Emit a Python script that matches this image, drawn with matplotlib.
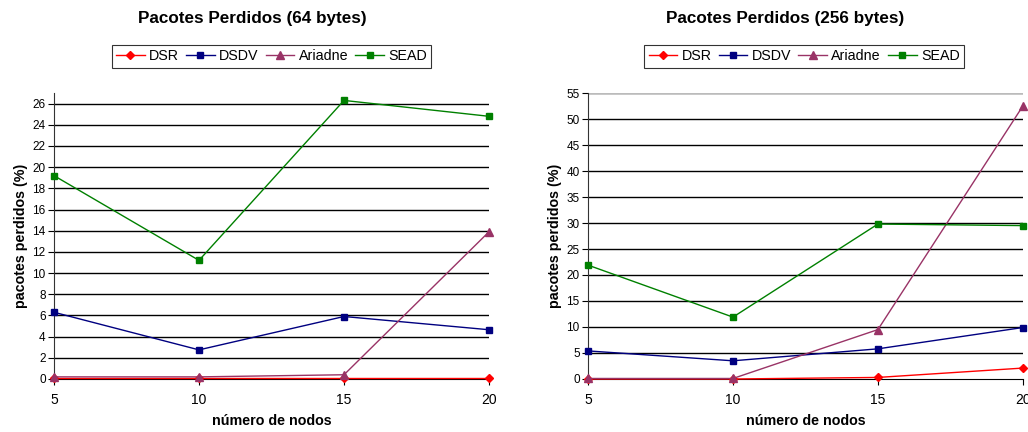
import matplotlib
matplotlib.use("Agg")
import matplotlib.pyplot as plt

plt.rcParams['font.family'] = ['Liberation Sans', 'DejaVu Sans']

# number of nodes
nodes = [5, 10, 15, 20]

# 64 bytes
dsr_64 = [0.05, 0.05, 0.05, 0.05]
dsdv_64 = [6.3, 2.75, 5.9, 4.65]
ariadne_64 = [0.2, 0.2, 0.4, 13.9]
sead_64 = [19.2, 11.2, 26.3, 24.8]

# 256 bytes
dsr_256 = [0.0, 0.0, 0.3, 2.1]
dsdv_256 = [5.4, 3.5, 5.8, 9.9]
ariadne_256 = [0.1, 0.1, 9.5, 52.5]
sead_256 = [21.9, 11.9, 29.8, 29.5]

NAMES = ['DSR', 'DSDV', 'Ariadne', 'SEAD']
COLORS = ['#FF0000', '#000080', '#993366', '#008000']
MARKERS = ['D', 's', '^', 's']
MSIZES = [4, 5, 5.5, 5]


def draw_panel(ax, series, title, ymax, ystep, title_x, legend_x):
    for vals, name, c, m, ms in zip(series, NAMES, COLORS, MARKERS, MSIZES):
        ax.plot(nodes, vals, color=c, marker=m, markersize=ms, lw=1,
                label=name, zorder=3, clip_on=False)
    ax.set_xlim(5, 20)
    ax.set_ylim(0, ymax)
    ax.set_xticks(nodes)
    ax.set_yticks(range(0, int(ymax) + 1, ystep))
    for y in range(ystep, int(ymax) + 1, ystep):
        ax.axhline(y, color='black', lw=1, zorder=1)
    for s in ['top', 'right']:
        ax.spines[s].set_visible(False)
    ax.spines['left'].set_color('#333333')
    ax.spines['bottom'].set_color('black')
    ax.tick_params(axis='y', labelsize=8.5, length=4, direction='out', pad=2)
    ax.tick_params(axis='x', labelsize=10, length=4, direction='out', pad=6)
    ax.set_xlabel('número de nodos', fontsize=10.3, fontweight='bold', labelpad=5)
    ax.set_ylabel('pacotes perdidos (%)', fontsize=10.3, fontweight='bold', labelpad=3)
    ax.text(title_x, 1 + 75 / 286, title, transform=ax.transAxes,
            ha='center', va='center', fontsize=12.3, fontweight='bold')
    leg = ax.legend(loc='center', bbox_to_anchor=(legend_x, 1.128), ncol=4,
                    fontsize=10.3, frameon=True, fancybox=False, handlelength=2.0,
                    handletextpad=0.3, columnspacing=0.5, borderpad=0.3,
                    borderaxespad=0)
    leg.get_frame().set_edgecolor('black')
    leg.get_frame().set_linewidth(0.8)


fig = plt.figure(figsize=(10.28, 4.32), dpi=100)
ax1 = fig.add_axes([0.0525, 0.1227, 0.4232, 0.662])
ax2 = fig.add_axes([0.572, 0.1227, 0.423, 0.662])

draw_panel(ax1, [dsr_64, dsdv_64, ariadne_64, sead_64],
           'Pacotes Perdidos (64 bytes)', 27, 2, 0.455, 0.5)
draw_panel(ax2, [dsr_256, dsdv_256, ariadne_256, sead_256],
           'Pacotes Perdidos (256 bytes)', 55, 5, 0.453, 0.497)
ax2.axhline(55, color='#bbbbbb', lw=1, zorder=1)

fig.savefig('out.png', dpi=100)
